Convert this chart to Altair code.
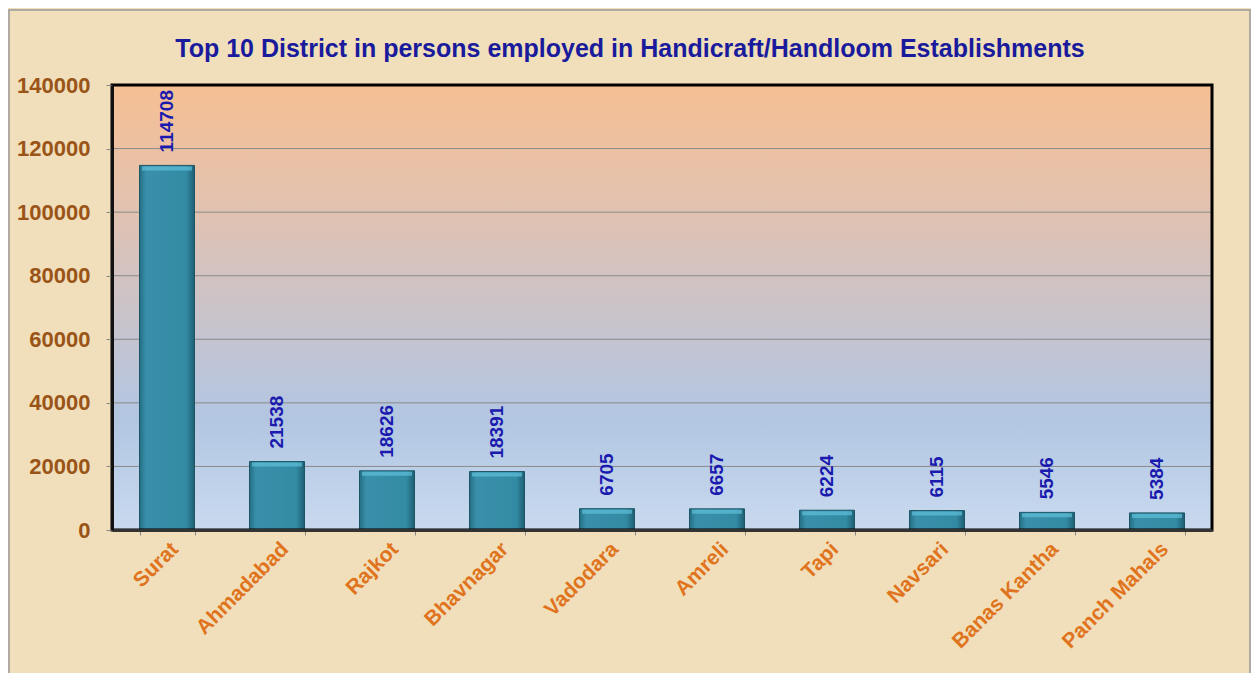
import altair as alt
import pandas as pd

districts = ["Surat", "Ahmadabad", "Rajkot", "Bhavnagar", "Vadodara",
             "Amreli", "Tapi", "Navsari", "Banas Kantha", "Panch Mahals"]
persons = [114708, 21538, 18626, 18391, 6705, 6657, 6224, 6115, 5546, 5384]
y_ticks = [0, 20000, 40000, 60000, 80000, 100000, 120000, 140000]
title_text = "Top 10 District in persons employed  in Handicraft/Handloom Establishments"

df = pd.DataFrame({"district": districts, "persons": persons})
grid_df = pd.DataFrame({"v": y_ticks})
title_df = pd.DataFrame({"t": [title_text]})

W, H = 1100, 445
FONT = "Liberation Sans"

x_enc = alt.X("district:N", sort=districts, title=None,
              scale=alt.Scale(paddingInner=0.5, paddingOuter=0.25),
              axis=alt.Axis(labelAngle=-45, labelColor="#E0741E", labelFont=FONT,
                            labelFontSize=21, labelFontWeight="bold",
                            tickBand="extent", tickSize=5, tickColor="#888888",
                            domainColor="#333333", domainWidth=3, labelPadding=3,
                            grid=False, zindex=1))
y_scale = alt.Scale(domain=[0, 140000], nice=False)
y_enc = alt.Y("persons:Q", title=None, scale=y_scale,
              axis=alt.Axis(values=y_ticks, format="d",
                            labelColor="#9A5418", labelFont=FONT, labelFontSize=22,
                            labelFontWeight="bold", tickSize=6, tickColor="#888888",
                            grid=False, domainColor="#111111",
                            domainWidth=3, labelPadding=16, zindex=1))

frame = alt.Chart(title_df).mark_rect(
    fill=None, stroke="#9a9a9a", strokeWidth=1.5, clip=False
).encode(x=alt.value(-103), x2=alt.value(W + 38), y=alt.value(-75), y2=alt.value(H + 150))

bg = alt.Chart(title_df).mark_rect(
    color=alt.Gradient(gradient="linear", x1=0, x2=0, y1=0, y2=1,
                       stops=[alt.GradientStop(color="#F6BF93", offset=0),
                              alt.GradientStop(color="#E4C2AE", offset=0.25),
                              alt.GradientStop(color="#CBC3C9", offset=0.5),
                              alt.GradientStop(color="#B2C6E2", offset=0.75),
                              alt.GradientStop(color="#C9DAEF", offset=1)])
).encode(x=alt.value(0), x2=alt.value(W), y=alt.value(0), y2=alt.value(H))

grid = alt.Chart(grid_df).mark_rule(color="#8a8a8a", strokeWidth=1).encode(
    y=alt.Y("v:Q", scale=y_scale))

bars = alt.Chart(df).mark_bar(
    color=alt.Gradient(gradient="linear", x1=0, x2=1, y1=0, y2=0,
                       stops=[alt.GradientStop(color="#236E84", offset=0),
                              alt.GradientStop(color="#3A90AA", offset=0.12),
                              alt.GradientStop(color="#338AA3", offset=0.85),
                              alt.GradientStop(color="#1F5F73", offset=1)]),
    stroke="#1C5566", strokeWidth=1
).encode(x=x_enc, y=y_enc)

caps = alt.Chart(df).mark_tick(
    color="#5FC0DA", thickness=4, size=50, yOffset=3
).encode(x=alt.X("district:N", sort=districts), y="persons:Q")

labels = alt.Chart(df).mark_text(
    angle=270, align="left", baseline="middle", dx=13, font=FONT,
    fontSize=19, fontWeight="bold", color="#1A1AAE"
).encode(x=alt.X("district:N", sort=districts), y="persons:Q", text="persons:Q")

border = alt.Chart(title_df).mark_rect(
    fill=None, stroke="#000000", strokeWidth=3
).encode(x=alt.value(0), x2=alt.value(W), y=alt.value(0), y2=alt.value(H))

title = alt.Chart(title_df).mark_text(
    font=FONT, fontSize=25, fontWeight="bold", color="#1A1A9C",
    align="center", baseline="alphabetic", clip=False
).encode(x=alt.value(518), y=alt.value(-28), text="t:N")

chart = alt.layer(frame, bg, grid, bars, caps, labels, border, title).properties(
    width=W, height=H,
    autosize=alt.AutoSizeParams(type="none"),
    padding={"left": 104, "top": 77, "right": 39, "bottom": 143},
    background="#F0DFBA"
).configure_view(stroke=None)

chart.save("out.html", embed_options={"renderer": "svg", "actions": False})
